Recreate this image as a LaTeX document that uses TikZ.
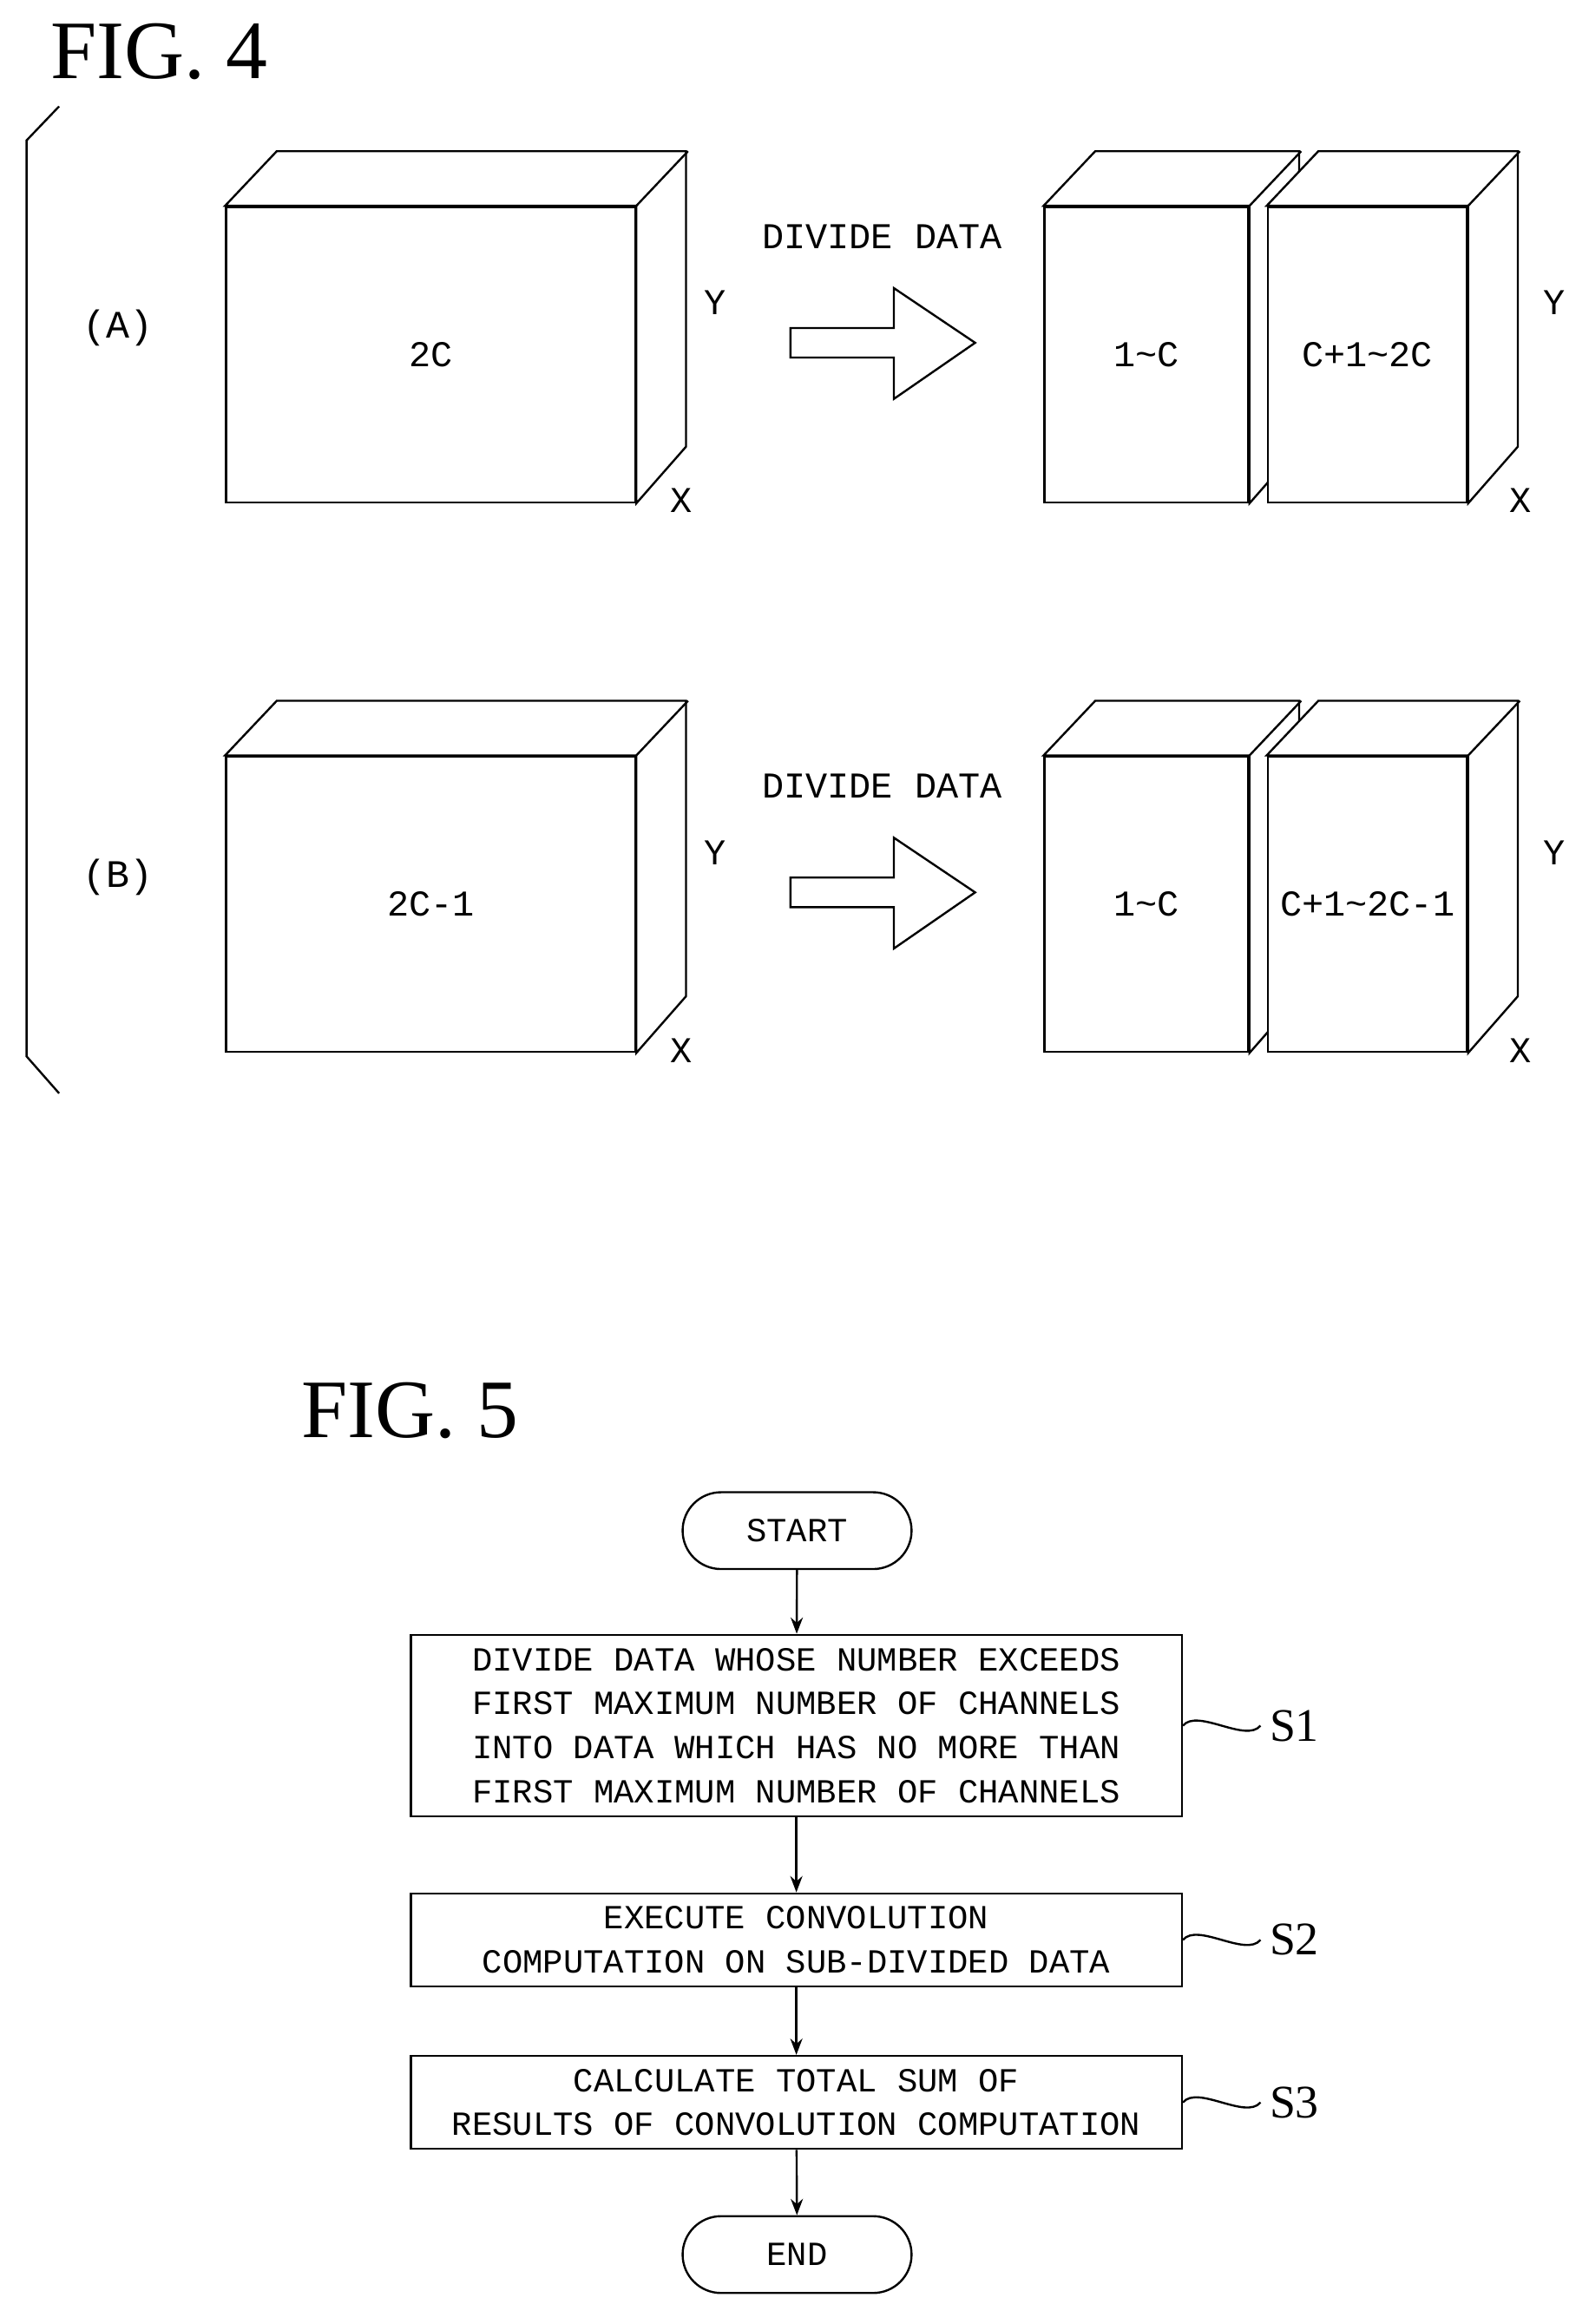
\documentclass[tikz,border=0pt]{standalone}
\usepackage{fontspec}
\setmainfont{Liberation Serif}
\setmonofont{Liberation Mono}
\usetikzlibrary{arrows.meta, positioning}
\tikzset{
    face/.style={rectangle, draw=black, thick, fill=white, inner sep=0pt, font=\ttfamily\fontsize{14}{16}\selectfont},
    axis/.style={font=\ttfamily\fontsize{14}{16}\selectfont},
    label/.style={font=\ttfamily\fontsize{15}{17}\selectfont},
    title/.style={font=\fontsize{32}{36}\selectfont},
    stepbox/.style={rectangle, draw=black, thick, fill=white, align=center, minimum width=10.44cm, font=\ttfamily\fontsize{13}{17}\selectfont},
    term/.style={rectangle, draw=black, thick, rounded corners=0.52cm, minimum width=3.1cm, minimum height=1.04cm, font=\ttfamily\fontsize{13}{15}\selectfont},
    arrow/.style={-{Stealth[length=2.2mm]}, thick},
    tag/.style={font=\fontsize{18}{20}\selectfont}
}
% front face node, then top and side faces
\newcommand{\databox}[3]{%
    \draw[thick, fill=white] (#1.north west) -- ++(35,-37) -- ++(#2,0) -- ++(0,#3) -- (#1.south east) -- (#1.north east) -- cycle;
    \draw[thick] (#1.north east) -- ++(35,-37);
}
\begin{document}
\begin{tikzpicture}[x=0.02cm, y=-0.02cm]
    \useasboundingbox (0,0) rectangle (1075,1573);

    % FIG. 4
    \node[title, anchor=west] (fig4) at (28,35) {FIG.\ 4};
    \draw[thick] (40,72) -- (18,95) -- (18,715) -- (40,740);

    \foreach \row/\lab/\big/\rest/\dy in {A/(A)/2C/2C/0, B/(B)/2C-1/2C-1/372} {
        \begin{scope}[yshift=-\dy*0.02cm]
            \node[label] (tag\row) at (80,222) {\lab};
            \node[face, minimum width=5.54cm, minimum height=4cm] (big\row) at (291.5,240) {\big};
            \databox{big\row}{277}{200}
            \node[axis] (ybig\row) at (484,205) {Y};
            \node[axis] (xbig\row) at (461,339) {X};

            \node[axis] (div\row) at (597,160) {DIVIDE DATA};
            \draw[thick] (535,222) -- (605,222) -- (605,195) -- (660,232) -- (605,270) -- (605,242) -- (535,242) -- cycle;

            \node[face, minimum width=2.76cm, minimum height=4cm] (one\row) at (776,240) {1\textasciitilde C};
            \databox{one\row}{138}{200}
            \node[face, minimum width=2.7cm, minimum height=4cm] (two\row) at (925.5,240) {C+1\textasciitilde\rest};
            \databox{two\row}{135}{200}
            \node[axis] (ytwo\row) at (1052,205) {Y};
            \node[axis] (xtwo\row) at (1029,339) {X};
        \end{scope}
    }

    % FIG. 5
    \node[title, anchor=west] (fig5) at (198,955) {FIG.\ 5};

    \node[term] (start) at (539.5,1036) {START};
    \node[stepbox, minimum height=2.46cm] (s1) at (539,1168) {DIVIDE DATA WHOSE NUMBER EXCEEDS\\FIRST MAXIMUM NUMBER OF CHANNELS\\INTO DATA WHICH HAS NO MORE THAN\\FIRST MAXIMUM NUMBER OF CHANNELS};
    \node[stepbox, minimum height=1.26cm] (s2) at (539,1313) {EXECUTE CONVOLUTION\\COMPUTATION ON SUB-DIVIDED DATA};
    \node[stepbox, minimum height=1.26cm] (s3) at (539,1423) {CALCULATE TOTAL SUM OF\\RESULTS OF CONVOLUTION COMPUTATION};
    \node[term] (end) at (539.5,1526) {END};

    \draw[arrow] (start) -- (s1);
    \draw[arrow] (s1) -- (s2);
    \draw[arrow] (s2) -- (s3);
    \draw[arrow] (s3) -- (end);

    \foreach \s in {1,2,3} {
        \node[tag, anchor=west] (lab\s) at ([xshift=1.05cm]s\s.east) {S\s};
        \draw[thick] (s\s.east) .. controls +(10,-12) and +(-10,12) .. (lab\s.west);
    }
\end{tikzpicture}
\end{document}
